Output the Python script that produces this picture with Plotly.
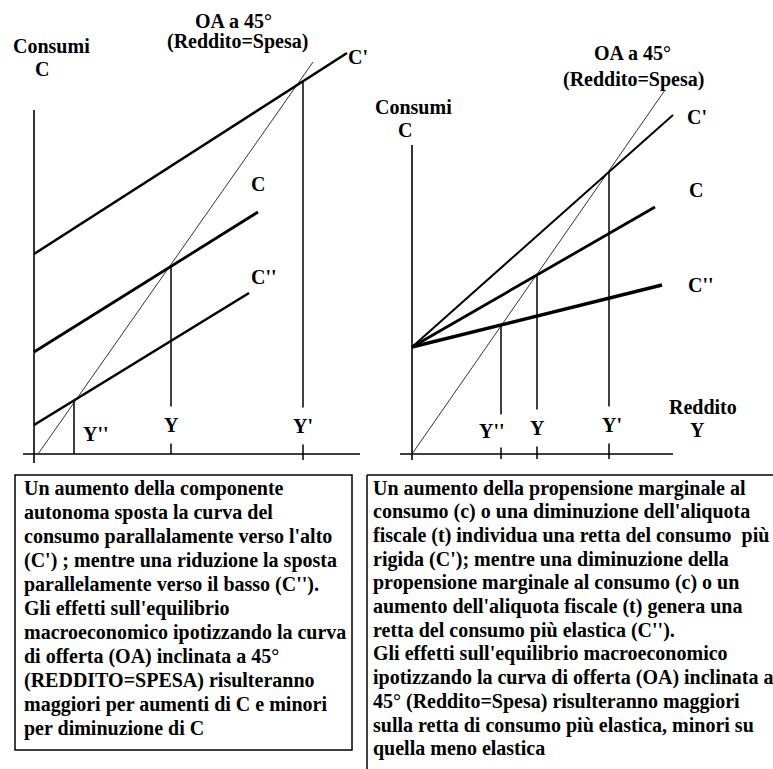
import plotly.graph_objects as go

W, H = 773, 769
FONT = "Liberation Serif, DejaVu Serif, serif"

# ---------------- Left panel: shift of autonomous consumption ----------------
# units: arbitrary, origin at the crossing of the axes
L_curve_names = ["C'", "C", "C''"]
L_curve_x = [[0, 313], [0, 224], [0, 215]]
L_curve_y = [[200, 401], [102, 242], [29, 161]]
L_curve_w = [2.6, 2.8, 2.6]
L_oa_x = [4, 279]
L_oa_y = [0, 392]
L_eq_names = ["Y''", "Y", "Y'"]
L_eq_x = [40, 137, 269]
L_eq_top = [52, 188, 372]
L_eq_bottom = [0, 0, -6]

# ---------------- Right panel: change of the marginal propensity ----------------
R_curve_names = ["C'", "C", "C''"]
R_curve_x = [[0, 261], [0, 243], [0, 250]]
R_curve_y = [[107, 339], [107, 247], [107, 169]]
R_curve_w = [2.0, 2.8, 3.4]
R_oa_x = [0, 253]
R_oa_y = [0, 364]
R_eq_names = ["Y''", "Y", "Y'"]
R_eq_x = [89, 125, 197]
R_eq_top = [129, 179, 282]
R_eq_bottom = [-5, -5, -5]

# ---------------- Texts ----------------
left_text = [
    "Un aumento della componente",
    "autonoma sposta la curva del",
    "consumo parallalamente verso l'alto",
    "(C') ; mentre una riduzione la sposta",
    "parallelamente verso il basso (C'').",
    "Gli effetti sull'equilibrio",
    "macroeconomico ipotizzando la curva",
    "di offerta (OA) inclinata a 45°",
    "(REDDITO=SPESA) risulteranno",
    "maggiori per aumenti di C e minori",
    "per diminuzione di C",
]
right_text = [
    "Un aumento della propensione marginale al",
    "consumo (c) o una diminuzione dell'aliquota",
    "fiscale (t) individua una retta del consumo  più",
    "rigida (C'); mentre una diminuzione della",
    "propensione marginale al consumo (c) o un",
    "aumento dell'aliquota fiscale (t) genera una",
    "retta del consumo più elastica (C'').",
    "Gli effetti sull'equilibrio macroeconomico",
    "ipotizzando la curva di offerta (OA) inclinata a",
    "45° (Reddito=Spesa) risulteranno maggiori",
    "sulla retta di consumo più elastica, minori su",
    "quella meno elastica",
]

fig = go.Figure()


def add_panel(xa, ya, cx, cy, cw, oax, oay, eqx, eqtop, eqbot, ax_x, ax_y):
    # axes
    fig.add_trace(go.Scatter(x=ax_x, y=[0, 0], mode="lines", xaxis=xa, yaxis=ya,
                             line=dict(color="black", width=1.6), hoverinfo="skip"))
    fig.add_trace(go.Scatter(x=[0, 0], y=ax_y, mode="lines", xaxis=xa, yaxis=ya,
                             line=dict(color="black", width=1.6), hoverinfo="skip"))
    # 45 degree line
    fig.add_trace(go.Scatter(x=oax, y=oay, mode="lines", xaxis=xa, yaxis=ya,
                             line=dict(color="#333333", width=1), hoverinfo="skip"))
    # equilibrium verticals
    for x, t, b in zip(eqx, eqtop, eqbot):
        fig.add_trace(go.Scatter(x=[x, x], y=[b, t], mode="lines", xaxis=xa, yaxis=ya,
                                 line=dict(color="black", width=1.5), hoverinfo="skip"))
    # consumption curves
    for xs, ys, w in zip(cx, cy, cw):
        fig.add_trace(go.Scatter(x=xs, y=ys, mode="lines", xaxis=xa, yaxis=ya,
                                 line=dict(color="black", width=w), hoverinfo="skip"))


add_panel("x", "y", L_curve_x, L_curve_y, L_curve_w, L_oa_x, L_oa_y,
          L_eq_x, L_eq_top, L_eq_bottom, [-11, 326], [-9, 344])
add_panel("x2", "y2", R_curve_x, R_curve_y, R_curve_w, R_oa_x, R_oa_y,
          R_eq_x, R_eq_top, R_eq_bottom, [-12, 261], [-6, 309])

ann = []
LS = 20


def lab(text, x, y, xref, yref, size=LS, bg=None, pad=1):
    d = dict(text="<b>" + text + "</b>", x=x, y=y, xref=xref, yref=yref,
             showarrow=False, font=dict(family=FONT, size=size, color="black"),
             xanchor="center", yanchor="middle", borderpad=pad)
    if bg:
        d["bgcolor"] = bg
    ann.append(d)


# left panel labels
lab("Consumi", 17, 408, "x", "y")
lab("C", 8, 385, "x", "y")
lab("OA a 45°", 199, 433, "x", "y")
lab("(Reddito=Spesa)", 203, 413, "x", "y")
for name, x, y in zip(L_curve_names, [324, 224, 230], [397, 270, 177]):
    lab(name, x, y, "x", "y")
lab(L_eq_names[0], 62, 20, "x", "y")
lab(L_eq_names[1], L_eq_x[1], 29, "x", "y", bg="white", pad=7)
lab(L_eq_names[2], L_eq_x[2], 28, "x", "y", bg="white", pad=7)

# right panel labels
lab("Consumi", 1, 347, "x2", "y2")
lab("C", -7, 324, "x2", "y2")
lab("OA a 45°", 220, 401, "x2", "y2")
lab("(Reddito=Spesa)", 221, 375, "x2", "y2")
for name, x, y in zip(R_curve_names, [285, 284, 289], [337, 264, 169]):
    lab(name, x, y, "x2", "y2")
lab(R_eq_names[0], R_eq_x[0] - 9, 23, "x2", "y2", bg="white", pad=5)
lab(R_eq_names[1], R_eq_x[1], 26, "x2", "y2", bg="white", pad=7)
lab(R_eq_names[2], R_eq_x[2] + 3, 29, "x2", "y2", bg="white", pad=7)
lab("Reddito", 291, 47, "x2", "y2")
lab("Y", 285, 24, "x2", "y2")

# text boxes
TS = 20
for i, line in enumerate(left_text):
    ann.append(dict(text="<b>" + line + "</b>", x=22 / W, y=1 - (488 + 24 * i) / H,
                    xref="paper", yref="paper", showarrow=False, xanchor="left",
                    yanchor="middle", font=dict(family=FONT, size=TS, color="black")))
for i, line in enumerate(right_text):
    ann.append(dict(text="<b>" + line + "</b>", x=371 / W, y=1 - (488 + 23.7 * i) / H,
                    xref="paper", yref="paper", showarrow=False, xanchor="left",
                    yanchor="middle", font=dict(family=FONT, size=TS, color="black")))

shapes = [
    dict(type="rect", xref="paper", yref="paper", x0=15 / W, x1=352 / W,
         y0=1 - 750 / H, y1=1 - 475 / H, line=dict(color="black", width=1.5)),
    dict(type="line", xref="paper", yref="paper", x0=367 / W, x1=1,
         y0=1 - 475 / H, y1=1 - 475 / H, line=dict(color="black", width=1.5)),
    dict(type="line", xref="paper", yref="paper", x0=367 / W, x1=367 / W,
         y0=1 - 475 / H, y1=0, line=dict(color="black", width=1.5)),
]

ax_common = dict(visible=False, fixedrange=True)
fig.update_layout(
    width=W, height=H, margin=dict(l=0, r=0, t=0, b=0),
    paper_bgcolor="white", plot_bgcolor="white", showlegend=False,
    xaxis=dict(domain=[0, 370 / W], range=[-34, 336], **ax_common),
    yaxis=dict(domain=[0, 1], range=[-315, 454], **ax_common),
    xaxis2=dict(domain=[370 / W, 1], range=[-42, 361], anchor="y2", **ax_common),
    yaxis2=dict(domain=[0, 1], range=[-315, 454], anchor="x2", **ax_common),
    annotations=ann, shapes=shapes,
)

fig.write_html("out.html", config={"displayModeBar": False},
               post_script="document.body.style.margin='0';document.body.style.overflow='hidden';")
